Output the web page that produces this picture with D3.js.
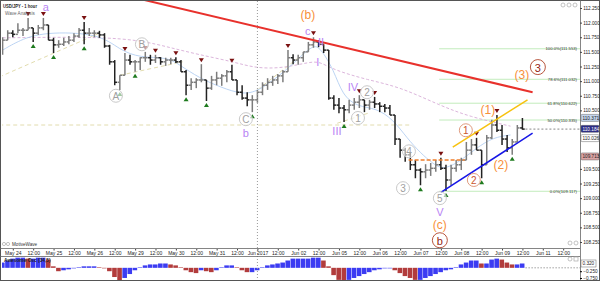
<!DOCTYPE html>
<meta charset="utf-8">
<script src="https://d3js.org/d3.v7.min.js"></script>
<style>
  body { margin: 0; background: #fff; }
  svg { display: block; font-family: "Liberation Sans", Arial, sans-serif; }
</style>
<div id="chart"></div>
<script>

// ---- data ----
// time axis: trading days, hours counted from May 24 00:00
var dayLabels = ["May 24", "May 25", "May 26", "May 29", "May 30", "May 31", "Jun 2017",
                 "Jun 02", "Jun 05", "Jun 06", "Jun 07", "Jun 08", "Jun 09", "Jun 11"];
var firstBarHour = -6, barStep = 3;   // one bar per 3 hours

var barHigh = [
  111.75,111.87,111.87,111.99,111.91,112.08,111.91,111.96,112.08,111.96,
  111.74,111.70,111.74,111.77,111.82,111.91,112.01,111.91,111.87,111.86,
  111.82,111.62,111.36,111.10,111.48,111.45,111.36,111.41,111.50,111.45,
  111.45,111.41,111.40,111.40,111.41,111.36,111.19,111.05,111.05,111.29,
  111.02,111.09,111.16,111.12,111.19,111.28,111.02,110.93,110.81,110.76,
  110.85,110.98,111.05,111.09,111.12,111.19,111.53,111.46,111.45,111.50,
  111.67,111.75,111.70,111.63,111.53,110.76,110.71,110.59,110.68,110.71,
  110.76,110.68,110.68,110.73,110.64,110.61,110.59,110.42,110.01,109.86,
  109.79,109.65,109.51,109.58,109.60,109.65,109.69,109.57,109.57,109.65,
  109.69,109.96,110.01,110.03,109.82,110.08,110.34,110.42,110.25,110.08,
  110.01,110.25,110.37];
var barLow = [
  111.45,111.70,111.75,111.82,111.77,111.87,111.67,111.79,111.87,111.70,
  111.48,111.57,111.60,111.63,111.67,111.74,111.63,111.77,111.75,111.74,
  111.57,111.28,110.93,110.85,111.10,111.28,111.16,111.19,111.33,111.28,
  111.31,111.28,111.26,111.29,111.31,111.16,110.76,110.85,110.88,110.98,
  110.66,110.85,110.93,110.92,110.98,111.02,110.76,110.68,110.57,110.47,
  110.63,110.76,110.85,110.92,110.95,110.98,111.16,111.29,111.28,111.33,
  111.50,111.57,111.58,111.48,110.68,110.51,110.45,110.30,110.45,110.51,
  110.54,110.47,110.51,110.54,110.47,110.47,110.42,109.91,109.69,109.62,
  109.48,109.34,109.22,109.34,109.38,109.45,109.48,109.12,109.22,109.45,
  109.48,109.65,109.74,109.82,109.34,109.57,110.01,110.13,109.91,109.79,
  109.74,109.96,110.17];
var barClose = [
  111.70,111.82,111.80,111.87,111.87,111.91,111.82,111.91,111.96,111.70,
  111.62,111.63,111.67,111.70,111.77,111.87,111.82,111.82,111.82,111.79,
  111.60,111.33,110.98,111.10,111.36,111.33,111.33,111.40,111.40,111.36,
  111.40,111.33,111.36,111.36,111.33,111.16,110.93,110.98,111.02,111.02,
  110.88,111.02,111.05,111.09,111.16,111.02,110.81,110.71,110.68,110.68,
  110.81,110.93,110.98,111.02,111.09,111.16,111.40,111.36,111.40,111.50,
  111.62,111.67,111.63,111.53,110.71,110.59,110.54,110.51,110.59,110.64,
  110.68,110.59,110.64,110.61,110.57,110.54,110.42,110.01,109.82,109.74,
  109.57,109.48,109.45,109.48,109.51,109.57,109.51,109.31,109.51,109.57,
  109.65,109.82,109.91,109.82,109.57,110.03,110.25,110.16,110.01,109.86,
  109.96,110.20,110.18];

// Awesome oscillator, one value per bar
var aoValues = [
  0.39,0.54,0.68,0.75,0.75,0.68,0.68,0.75,0.75,0.61,
  0.11,-0.25,-0.18,-0.11,-0.04,0.04,0.11,0.11,0.11,0.04,
  -0.04,-0.25,-0.68,-0.96,-0.75,-0.46,-0.18,0.04,0.18,0.25,
  0.25,0.32,0.32,0.25,0.18,0.04,-0.18,-0.32,-0.39,-0.18,
  -0.25,-0.32,-0.18,0.04,0.18,0.18,0.04,-0.18,-0.32,-0.32,
  -0.18,0.04,0.18,0.25,0.32,0.39,0.54,0.68,0.68,0.68,
  0.68,0.75,0.75,0.54,0.11,-0.54,-0.89,-0.96,-0.89,-0.75,
  -0.61,-0.46,-0.32,-0.18,-0.11,-0.04,-0.04,-0.18,-0.39,-0.61,
  -0.75,-0.89,-0.89,-0.75,-0.61,-0.46,-0.32,-0.18,-0.11,0.04,
  0.25,0.39,0.54,0.54,0.32,0.32,0.61,0.68,0.61,0.39,
  0.25,0.25,0.32];

// swing markers (bar numbers, 0-based)
var swingHighBars = [5,8,16,24,28,30,34,39,45,56,61,70,73,86,93,97];
var swingLowBars = [6,10,16,23,26,36,40,49,67,82,87,94,100];

// moving averages
var maSlowHours = [-6,22,51,75,93,110,130,143,159,175,181,189,209,228,251,269,293];
var maSlowPrice = [111.74,111.75,111.75,111.70,111.57,111.45,111.33,111.22,111.22,111.33,
                   111.33,111.19,111.02,110.90,110.59,110.39,110.23];
var maFastHours = [-6,4,18,51,63,75,91,98,110,122,136,146,161,169,177,181,189,194,203,214,
                   224,232,240,247,253,263,273,283,293];
var maFastPrice = [111.53,111.70,111.84,111.82,111.53,111.40,111.41,111.28,111.05,110.90,
                   110.76,110.85,111.19,111.41,111.62,111.57,111.19,110.76,110.56,110.54,
                   110.34,110.03,109.77,109.60,109.48,109.62,109.86,110.04,110.08];

// drawn lines: [hour1, price1, hour2, price2]
var redLine = [77, 112.39, 306, 110.81];
var goldLine = [259, 109.87, 303, 110.68];
var blueLine = [252, 109.10, 306, 110.11];
var orangeDash = [233, 109.65, 266, 109.65];
var tanDashes = [[-8, 111.07, 51, 111.82], [63, 111.10, 100, 111.33],
                 [144, 110.85, 176, 111.58], [191, 110.28, 209, 110.45],
                 [-8, 110.25, 234, 110.25]];

// fibonacci retracement
var fibHigh = 111.553, fibLow = 109.117, fibStartHour = 251;
var fibRatios = [1, 0.786, 0.618, 0.5, 0];

// wave labels: [text, hour, price]
var purpleLabels = [["a",19.5,112.26],["c",173.7,111.86],["II",181.4,111.67],["I",179.6,111.33],
                    ["b",137.2,110.11],["III",190.8,110.15],["IV",200.2,110.90],["V",251.4,108.76]];
var orangeLabels = [["(b)",173.7,112.13],["(c)",251.4,108.54],["(1)",279.7,110.51],
                    ["(2)",287.3,109.57],["(3)",299.7,111.10]];
var grayCircles = [["A",60.7,110.75],["B",76,111.63],["C",137.2,110.35],["1",203.2,110.37],
                   ["2",208.5,110.81],["3",229.7,109.17],["4",233.2,109.80],["5",251.4,109.00]];
var minorCircles = [["1",266.7,110.16],["2",271.4,109.31]];
var majorCircles = [["b",251.4,108.28],["3",309.1,111.24]];

// price tags on the right axis
var priceTags = [110.371, 110.184, 110.026, 109.713];

// ---- chart ----
var W = 600, H = 284;
var plotL = 2, plotR = 580, plotT = 1, mainB = 248, oscT = 256, oscB = 280;

var svg = d3.select("#chart").append("svg")
  .attr("width", W).attr("height", H);

var x = d3.scaleLinear().domain([0, 24 * 13]).range([12.8, 542.8]);
var y = d3.scaleLinear().domain([108.25, 112.25]).range([242, 8]);
var yo = d3.scaleLinear().domain([-0.9, 0.8]).range([280, 257]);

svg.append("clipPath").attr("id", "clipMain").append("rect")
  .attr("x", plotL).attr("y", plotT).attr("width", plotR - plotL).attr("height", mainB - plotT);
svg.append("clipPath").attr("id", "clipOsc").append("rect")
  .attr("x", plotL).attr("y", oscT).attr("width", plotR - plotL).attr("height", oscB - oscT);

var main = svg.append("g").attr("clip-path", "url(#clipMain)");
var osc = svg.append("g").attr("clip-path", "url(#clipOsc)");

// month separator
svg.append("line")
  .attr("x1", x(144)).attr("x2", x(144)).attr("y1", plotT).attr("y2", oscB)
  .attr("stroke", "#999").attr("stroke-dasharray", "1,2");

// fib levels
fibRatios.forEach(function(r) {
  var p = fibLow + r * (fibHigh - fibLow);
  main.append("line")
    .attr("x1", x(fibStartHour)).attr("x2", plotR).attr("y1", y(p)).attr("y2", y(p))
    .attr("stroke", "#c2ecbc").attr("stroke-width", 1);
  main.append("text")
    .attr("x", plotR - 3).attr("y", y(p) + 1.5)
    .attr("text-anchor", "end").attr("font-size", 4.2).attr("fill", "#333")
    .text((r * 100).toFixed(1) + "%(" + p.toFixed(3) + ")");
});

function seg(g, d) {
  return g.append("line")
    .attr("x1", x(d[0])).attr("y1", y(d[1])).attr("x2", x(d[2])).attr("y2", y(d[3]));
}

tanDashes.forEach(function(d) {
  seg(main, d).attr("stroke", "#e2dcae").attr("stroke-width", 1).attr("stroke-dasharray", "4,3");
});

// moving averages
var line = d3.line().curve(d3.curveBasis);
main.append("path")
  .attr("d", line(maSlowHours.map(function(h, i) { return [x(h), y(maSlowPrice[i])]; })))
  .attr("fill", "none").attr("stroke", "#dcb6dc").attr("stroke-width", 1).attr("stroke-dasharray", "3,2");
main.append("path")
  .attr("d", line(maFastHours.map(function(h, i) { return [x(h), y(maFastPrice[i])]; })))
  .attr("fill", "none").attr("stroke", "#b4cff2").attr("stroke-width", 0.9);

// bars
var bars = barHigh.map(function(h, i) {
  return {t: firstBarHour + i * barStep, h: h, l: barLow[i], c: barClose[i],
          o: i > 0 ? barClose[i - 1] : (h + barLow[i]) / 2};
});
var bg = main.selectAll("g.bar").data(bars).enter().append("g")
  .attr("stroke", function(d) { return d.c < d.o ? "#222" : "#7c7c7c"; })
  .attr("stroke-width", 1.5);
bg.append("line")
  .attr("x1", function(d) { return x(d.t); }).attr("x2", function(d) { return x(d.t); })
  .attr("y1", function(d) { return y(d.h); }).attr("y2", function(d) { return y(d.l); });
bg.append("line")
  .attr("x1", function(d) { return x(d.t) - 2.3; }).attr("x2", function(d) { return x(d.t); })
  .attr("y1", function(d) { return y(d.o); }).attr("y2", function(d) { return y(d.o); });
bg.append("line")
  .attr("x1", function(d) { return x(d.t); }).attr("x2", function(d) { return x(d.t) + 2.3; })
  .attr("y1", function(d) { return y(d.c); }).attr("y2", function(d) { return y(d.c); });

// swing markers
main.selectAll("path.hi").data(swingHighBars).enter().append("path")
  .attr("d", function(i) {
    var cx = x(bars[i].t), cy = y(bars[i].h);
    return "M" + (cx - 2.5) + "," + (cy - 6) + "h5l-2.5,4z";
  }).attr("fill", "#7a1010");
main.selectAll("path.lo").data(swingLowBars).enter().append("path")
  .attr("d", function(i) {
    var cx = x(bars[i].t), cy = y(bars[i].l);
    return "M" + (cx - 2.5) + "," + (cy + 6) + "h5l-2.5,-4z";
  }).attr("fill", "#1d7a1d");

// trend lines
seg(main, orangeDash).attr("stroke", "#f07f2c").attr("stroke-width", 1.5).attr("stroke-dasharray", "4,2");
seg(main, redLine).attr("stroke", "#e8312c").attr("stroke-width", 2);
seg(main, goldLine).attr("stroke", "#f7c20f").attr("stroke-width", 1.5);
seg(main, blueLine).attr("stroke", "#1616e6").attr("stroke-width", 1.5);

// last price line
main.append("line")
  .attr("x1", x(bars[bars.length - 1].t) + 3).attr("x2", plotR)
  .attr("y1", y(barClose[barClose.length - 1])).attr("y2", y(barClose[barClose.length - 1]))
  .attr("stroke", "#555").attr("stroke-dasharray", "2,2").attr("stroke-width", 0.7);

// wave labels
function labels(list, color, size) {
  list.forEach(function(d) {
    main.append("text").attr("x", x(d[1])).attr("y", y(d[2]))
      .attr("text-anchor", "middle").attr("dominant-baseline", "central")
      .attr("font-size", size).attr("fill", color).text(d[0]);
  });
}
function circles(list, stroke, color, r, size) {
  list.forEach(function(d) {
    main.append("circle").attr("cx", x(d[1])).attr("cy", y(d[2])).attr("r", r)
      .attr("fill", "#fff").attr("fill-opacity", 0.6).attr("stroke", stroke).attr("stroke-width", 1);
    main.append("text").attr("x", x(d[1])).attr("y", y(d[2]) + 0.5)
      .attr("text-anchor", "middle").attr("dominant-baseline", "central")
      .attr("font-size", size).attr("fill", color).text(d[0]);
  });
}
labels(purpleLabels, "#b884f4", 11);
labels(orangeLabels, "#f7903a", 12);
circles(grayCircles, "#c9c9c9", "#a0a0a0", 6.5, 10);
circles(minorCircles, "#e09a7e", "#c9552e", 6.5, 10);
circles(majorCircles, "#b8563e", "#961e10", 7.5, 11);

// title
svg.append("text").attr("x", 3).attr("y", 8).attr("font-size", 6).attr("font-weight", "bold")
  .attr("textLength", 34).attr("lengthAdjust", "spacingAndGlyphs")
  .attr("fill", "#222").text("USD/JPY - 1 hour");
svg.append("text").attr("x", 5).attr("y", 15).attr("font-size", 4.6).attr("fill", "#666")
  .text("Wave Analysis");

// oscillator
var step = x(barStep) - x(0);
osc.selectAll("rect").data(aoValues).enter().append("rect")
  .attr("x", function(d, i) { return x(firstBarHour + i * barStep) - step / 2; })
  .attr("width", step - 0.5)
  .attr("y", function(d) { return Math.min(yo(d), yo(0)); })
  .attr("height", function(d) { return Math.abs(yo(d) - yo(0)); })
  .attr("fill", function(d, i) { return i > 0 && d < aoValues[i - 1] ? "#b23c3c" : "#3c3cf2"; });
osc.append("line")
  .attr("x1", x(firstBarHour + (aoValues.length - 1) * barStep) + 3).attr("x2", plotR)
  .attr("y1", yo(0)).attr("y2", yo(0))
  .attr("stroke", "#777").attr("stroke-dasharray", "1.5,1.5").attr("stroke-width", 0.7);
svg.append("text").attr("x", 4).attr("y", 262).attr("font-size", 4.8).attr("font-weight", "bold")
  .attr("fill", "#222").text("Awesome Osc (34,5)");

// frames
svg.append("rect").attr("x", 0.5).attr("y", 0.5).attr("width", W - 1).attr("height", oscB)
  .attr("fill", "none").attr("stroke", "#555").attr("stroke-width", 1);
[mainB, oscT].forEach(function(v) {
  svg.append("line").attr("x1", 0).attr("x2", plotR).attr("y1", v + 0.5).attr("y2", v + 0.5)
    .attr("stroke", "#666").attr("stroke-width", 0.8);
});
svg.append("line").attr("x1", plotR + 0.5).attr("x2", plotR + 0.5).attr("y1", 0).attr("y2", oscB)
  .attr("stroke", "#666").attr("stroke-width", 0.8);

// price axis (labels hidden under the price tags are left out)
var priceTicks = d3.range(108.25, 112.26, 0.25).filter(function(v) {
  return priceTags.every(function(p) { return Math.abs(y(p) - y(v)) > 6; });
});
var ya = svg.append("g").attr("transform", "translate(" + plotR + ",0)")
  .call(d3.axisRight(y).tickValues(priceTicks)
    .tickFormat(d3.format(".3f")).tickSize(2).tickPadding(1.2));
ya.select(".domain").remove();
ya.selectAll("text").attr("font-size", 4.7).attr("fill", "#222");
ya.selectAll("line").attr("stroke", "#444");

var tagFill = ["#c4d6ee", "#2b2b86", "#ffffff", "#d9a3a3"];
var tagText = ["#222", "#fff", "#222", "#222"];
priceTags.forEach(function(p, i) {
  svg.append("rect").attr("x", plotR + 1).attr("y", y(p) - 3.5).attr("width", 18).attr("height", 7)
    .attr("fill", tagFill[i]).attr("stroke", "#666").attr("stroke-width", 0.5).attr("rx", 1);
  svg.append("text").attr("x", plotR + 2.5).attr("y", y(p) + 1.7).attr("font-size", 4.7)
    .attr("fill", tagText[i]).text(p.toFixed(3));
});

// oscillator axis
var oa = svg.append("g").attr("transform", "translate(" + plotR + ",0)")
  .call(d3.axisRight(yo).tickValues([-0.25, -0.75]).tickFormat(d3.format(".3f"))
    .tickSize(2).tickPadding(1.2));
oa.select(".domain").remove();
oa.selectAll("text").attr("font-size", 4.7).attr("fill", "#222");
var lastAo = aoValues[aoValues.length - 1];
svg.append("rect").attr("x", plotR + 1).attr("y", yo(lastAo) - 3.5).attr("width", 15).attr("height", 7)
  .attr("fill", "#fff").attr("stroke", "#666").attr("stroke-width", 0.5);
svg.append("text").attr("x", plotR + 2.5).attr("y", yo(lastAo) + 1.7).attr("font-size", 4.7)
  .attr("fill", "#222").text(lastAo.toFixed(3));

// time axis
var hours = d3.range(0, 24 * 14, 12);
var xa = svg.append("g").attr("transform", "translate(0," + (mainB + 1) + ")")
  .call(d3.axisBottom(x).tickValues(hours.filter(function(h) { return x(h) < plotR - 8; }))
    .tickFormat(function(h) { return h % 24 === 0 ? dayLabels[h / 24] : "12:00"; })
    .tickSize(1.5).tickPadding(0.5));
xa.select(".domain").remove();
xa.selectAll("text").attr("font-size", 5).attr("fill", "#222");
xa.selectAll("line").attr("stroke", "#444");

// small chrome
[563, 569, 575].forEach(function(cx) {
  svg.append("circle").attr("cx", cx).attr("cy", 5).attr("r", 2)
    .attr("fill", "none").attr("stroke", "#aaa").attr("stroke-width", 0.7);
});
[570, 576].forEach(function(cx) {
  svg.append("circle").attr("cx", cx).attr("cy", 243).attr("r", 2)
    .attr("fill", "none").attr("stroke", "#aaa").attr("stroke-width", 0.7);
});
svg.append("circle").attr("cx", 570).attr("cy", 259).attr("r", 2)
  .attr("fill", "none").attr("stroke", "#aaa").attr("stroke-width", 0.7);
svg.append("rect").attr("x", 574).attr("y", 257).attr("width", 4).attr("height", 4)
  .attr("fill", "none").attr("stroke", "#aaa").attr("stroke-width", 0.7);
[4, 8].forEach(function(cx) {
  svg.append("circle").attr("cx", cx).attr("cy", 244).attr("r", 1.6)
    .attr("fill", "none").attr("stroke", "#999").attr("stroke-width", 0.6);
});
svg.append("text").attr("x", 12).attr("y", 245.7).attr("font-size", 4.6).attr("fill", "#333")
  .text("MotiveWave");

</script>
